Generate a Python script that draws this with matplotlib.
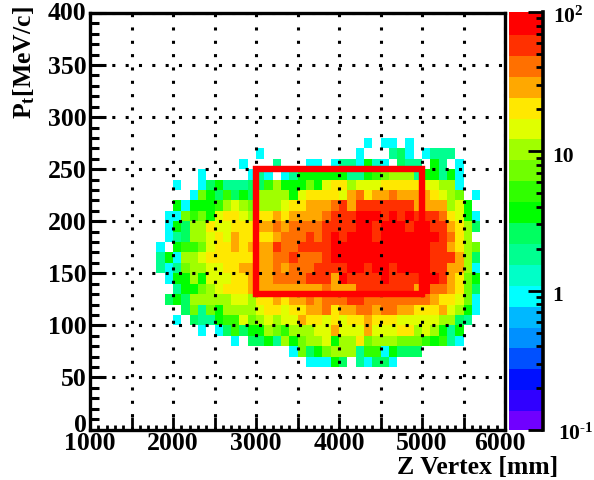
import matplotlib

matplotlib.use("Agg")
import matplotlib.pyplot as plt
import matplotlib.transforms as mtransforms
import numpy as np
from matplotlib.colors import ListedColormap, LogNorm
from matplotlib.patches import Rectangle
from matplotlib.ticker import FixedLocator, MultipleLocator

plt.rcParams["font.family"] = ["Liberation Serif", "DejaVu Serif"]
plt.rcParams["font.weight"] = "bold"
plt.rcParams["mathtext.fontset"] = "custom"
plt.rcParams["mathtext.rm"] = "Liberation Serif:bold"
plt.rcParams["mathtext.bf"] = "Liberation Serif:bold"
plt.rcParams["mathtext.default"] = "rm"
plt.rcParams["lines.scale_dashes"] = False

# histogram binning
z_edges = np.arange(1000, 6001, 100)
pt_edges = np.arange(0, 401, 10)

# palette, lowest level first
level_colors = [
    "#7000ff", "#3000ff", "#0010ff", "#0050ff", "#0090ff",
    "#00b8ff", "#00ffff", "#00ffc8", "#00ff90", "#00ff60",
    "#00ff00", "#30ff00", "#70ff00", "#a0ff00", "#e0ff00",
    "#ffe800", "#ffa800", "#ff7000", "#ff3000", "#ff0000",
]

# counts read per cell, one letter per bin (see count_of)
count_of = {
    ".": 0, "c": 1, "t": 1.3, "s": 2, "S": 3, "g": 4, "G": 5, "l": 7,
    "L": 10, "y": 15, "Y": 21, "a": 30, "o": 42, "r": 60, "R": 85,
}
first_row_pt = 60
first_col_z = 1800
rows = [
    "..................cc" "cgS.scSSc...........",  # 60
    "................clSg" "lLLLsGGcgSSS........",  # 70
    ".........c.SSgsLglLL" "ygLLYlLLLlllGgGsc...",  # 80
    ".....c.cSGSggLlGLLLy" "yayyyayyyYYLyLgsg...",  # 90
    "..c.SssgGGylLyLyyaYY" "yYyYYaYYYyyyyyLLSs..",  # 100
    "...SlslgLLLLyYYyYYaa" "oYaaooaooaaYYYayLgc.",  # 110
    ".SgSLLLLLyyLYYaYaaoa" "ooorrooooooooaYYylc.",  # 120
    "..sgglLyYYYaaaaaaaaa" "oaaarrrrrrraRooaYlS.",  # 130
    ".cggLgyyyYYaaaoooorr" "raRrrrrRrrrrRRraYlg.",  # 140
    "scslLLyyYYaaaaoaooor" "rrrRRrRRrRRRRrraaLc.",  # 150
    "sgcLLyYYYYYYaaoorooo" "rRRRRRRRRRRRRrrraLS.",  # 160
    "c.gGGlyYYaYaaaroorrr" "rRRRRRRRRRRRRrraYLl.",  # 170
    ".csSLLyYyaYYYYaoooro" "rRrRRRrRRRRRRRroYL..",  # 180
    ".cgSLLYyyYYYaaoaoooo" "rrrrRRrRRRrRRrraYLS.",  # 190
    ".cclGlgyYYyLYYaYaaaa" "orrrRRRrRrRrrroYygc.",  # 200
    "..gcgggGLyLlLLLyYYaa" "aorarrrrrrraaaaLyg..",  # 210
    "....clgSGSgSLLLLgyYY" "YYyaoYaaoaaaaYyLl.c.",  # 220
    "..c..cSgsssSSGLggglg" "yYYLyyyYYYYYyyLLc...",  # 230
    ".....c.....csc.csggg" "gggssgGlLLLsggsgc...",  # 240
    "..........c...s...cc" ".csscgtc.Sss.gs.c...",  # 250
    "............c......." "....c...sSc.csss....",  # 260
    "...................." ".....c.cc.c.........",  # 270
]

box_z = [3000, 5000]
box_pt = [130, 250]

z_ticks = [1000, 2000, 3000, 4000, 5000, 6000]
pt_ticks = [0, 50, 100, 150, 200, 250, 300, 350, 400]
bar_ticks = [0.1, 1, 10, 100]
bar_labels = [r"$10^{\text{-}1}$", "1", "10", "$10^{2}$"]

counts = np.zeros((len(pt_edges) - 1, len(z_edges) - 1))
row0 = (first_row_pt - pt_edges[0]) // 10
col0 = (first_col_z - z_edges[0]) // 100
for i, row in enumerate(rows):
    for j, ch in enumerate(row):
        counts[row0 + i, col0 + j] = count_of[ch]
counts = np.ma.masked_equal(counts, 0)

W, H = 594, 480
fig = plt.figure(figsize=(W / 100, H / 100), dpi=100)
ax = fig.add_axes([90 / W, (H - 429.5) / H, 415 / W, 416.5 / H])
cax = fig.add_axes([509 / W, (H - 430) / H, 34 / W, 418 / H])

cmap = ListedColormap(level_colors)
mesh = ax.pcolormesh(
    z_edges, pt_edges, counts, cmap=cmap, norm=LogNorm(vmin=0.1, vmax=100), zorder=1
)

ax.set_xlim(1000, 6000)
ax.set_ylim(0, 400)

# dotted grid sits over the cells
ax.set_axisbelow(False)
ax.xaxis.set_major_locator(MultipleLocator(500))
ax.xaxis.set_minor_locator(MultipleLocator(100))
ax.yaxis.set_major_locator(MultipleLocator(50))
ax.yaxis.set_minor_locator(MultipleLocator(10))
ax.grid(True, which="major", axis="x", color="black", lw=2.2, ls=(0, (2.2, 7.4)))
ax.grid(True, which="major", axis="y", color="black", lw=2.2, ls=(3.5, (2.2, 7.4)))

ax.add_patch(
    Rectangle(
        (box_z[0], box_pt[0]),
        box_z[1] - box_z[0],
        box_pt[1] - box_pt[0],
        fill=False,
        edgecolor="#ff0000",
        lw=4.6,
        zorder=3,
    )
)

ax.tick_params(axis="x", which="major", direction="in", length=9.5, width=2, pad=2, labelsize=18.5)
ax.tick_params(axis="x", which="minor", direction="in", length=3.6, width=2)
ax.tick_params(axis="y", which="major", direction="in", length=11.5, width=2.2, pad=2.5, labelsize=18.5)
ax.tick_params(axis="y", which="minor", direction="in", length=6.5, width=2.2)
x_major = np.arange(1000, 6001, 500)
ax.set_xticks(x_major)
ax.set_xticklabels([str(v) if v in z_ticks else "" for v in x_major])
ax.set_yticks(pt_ticks)
for spine in ax.spines.values():
    spine.set_linewidth(2.4)

# shift the end labels like the reference does
for lab, dx, dy in [
    (ax.get_xticklabels()[-1], -5, 0),
    (ax.get_yticklabels()[0], 0, 7),
    (ax.get_yticklabels()[-1], 0, 2),
]:
    lab.set_transform(
        lab.get_transform() + mtransforms.ScaledTranslation(dx / 100, dy / 100, fig.dpi_scale_trans)
    )

ax.set_xlabel("Z Vertex [mm]", fontsize=18.5, fontweight="bold", ha="right", va="baseline")
ax.xaxis.set_label_coords((558 - 90) / 415, -(474 - 429.5) / 416.5)
ax.set_ylabel("P$_{t}$[MeV/c]", fontsize=18.5, fontweight="bold", ha="right")
ax.yaxis.set_label_coords(-53 / 415, 1 + 7 / 416.5)

cb = fig.colorbar(mesh, cax=cax)
cb.outline.set_visible(False)
cb.solids.set_edgecolor("face")
cax.yaxis.set_major_locator(FixedLocator(bar_ticks))
cax.set_yticklabels(bar_labels)
minor = [m * d for d in (0.1, 1, 10) for m in range(2, 10)]
cax.yaxis.set_minor_locator(FixedLocator(minor))
cax.yaxis.set_ticks_position("right")
cax.tick_params(which="major", direction="in", length=11, width=2, pad=7, labelsize=15.5)
cax.tick_params(which="minor", direction="in", length=5, width=2)
cax.plot([1, 1], [0, 1], transform=cax.transAxes, color="black", lw=2.6, clip_on=False)

# colour bar labels sit a little below their ticks, the bottom one further right
for lab, dx, dy in zip(cax.get_yticklabels(), [5, 0, 0, 0], [-2, -3, -3, -3]):
    lab.set_transform(
        lab.get_transform() + mtransforms.ScaledTranslation(dx / 100, dy / 100, fig.dpi_scale_trans)
    )

fig.savefig("out.png", dpi=100)
